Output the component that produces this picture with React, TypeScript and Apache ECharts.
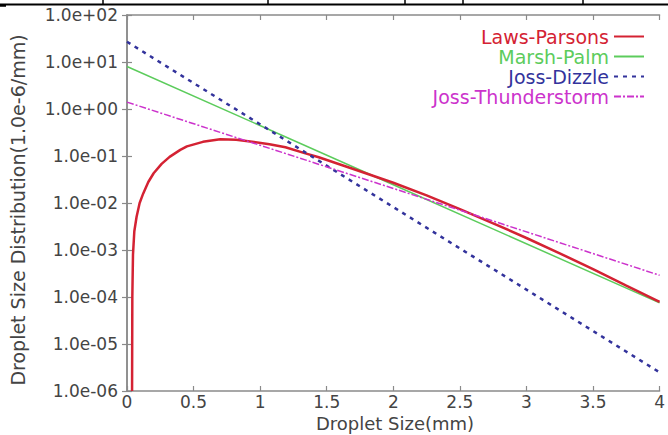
import React, { useEffect, useRef } from "react";
import * as echarts from "echarts";

const seriesNames = ["Laws-Parsons", "Marsh-Palm", "Joss-Dizzle", "Joss-Thunderstorm"];
const seriesColors = ["#d42233", "#5ccc5c", "#33339c", "#cc33cc"];

const lawsParsonsX = [0.038, 0.04, 0.045, 0.055, 0.072, 0.095, 0.122, 0.16, 0.2, 0.26, 0.32, 0.4, 0.45, 0.57, 0.7, 0.82, 0.94, 1.07, 1.19, 1.34, 1.44, 1.7, 2.0, 2.25, 2.5, 2.75, 3.0, 3.25, 3.5, 3.75, 4.0];
const lawsParsonsY = [1e-6, 1e-4, 8e-4, 2.5e-3, 5.1e-3, 1e-2, 1.6e-2, 2.8e-2, 4.3e-2, 6.8e-2, 9.6e-2, 0.135, 0.16, 0.2, 0.226, 0.222, 0.2, 0.178, 0.153, 0.114, 0.094, 0.053, 0.027, 0.0145, 7.4e-3, 3.7e-3, 1.8e-3, 8.5e-4, 3.9e-4, 1.75e-4, 7.9e-5];

const lineX = [0, 2, 4];
const marshPalmY = [8, 0.0245, 7.5e-5];
const jossDizzleY = [27, 8.2e-3, 2.5e-6];
const jossThunderY = [1.4, 0.0204, 2.9e-4];

const xMin = 0;
const xMax = 4;
const xInterval = 0.5;
const yMin = 1e-6;
const yMax = 100;

const xTitle = "Droplet Size(mm)";
const yTitle = "Droplet Size Distribution(1.0e-6/mm)";

const tableColumnsX = [103, 268, 405, 463, 583];

function fmtExp(v: number): string {
  const e = Math.round(Math.log10(v));
  const sign = e < 0 ? "-" : "+";
  const a = Math.abs(e);
  return "1.0e" + sign + (a < 10 ? "0" + a : String(a));
}

function zip(xs: number[], ys: number[]) {
  return xs.map((x, i) => [x, ys[i]]);
}

export default function App() {
  const ref = useRef<HTMLDivElement>(null);
  useEffect(() => {
    if (!ref.current) return;
    const chart = echarts.init(ref.current, undefined, { renderer: "svg" });
    const font = "DejaVu Sans";
    const axisColor = "#8a8a8a";
    const labelColor = "#444";
    const commonLine = { show: true, lineStyle: { color: axisColor, width: 1.5 } };
    const tick = { show: true, inside: true, length: 5, lineStyle: { color: axisColor, width: 1.2 } };

    const graphics: any[] = [
      {
        type: "line",
        shape: { x1: 0, y1: 4.5, x2: 668, y2: 4.5 },
        style: { stroke: "#000", lineWidth: 2 },
        silent: true,
      },
      {
        type: "line",
        shape: { x1: 0, y1: 5.5, x2: 6, y2: 5.5 },
        style: { stroke: "#000", lineWidth: 2.5 },
        silent: true,
      },
      ...tableColumnsX.map((x) => ({
        type: "line",
        shape: { x1: x, y1: 0, x2: x, y2: 4.5 },
        style: { stroke: "#000", lineWidth: 1.5 },
        silent: true,
      })),
      {
        type: "text",
        x: 395,
        y: 423,
        style: {
          text: xTitle,
          font: `18px "${font}"`,
          fill: labelColor,
          textAlign: "center",
          textVerticalAlign: "middle",
          align: "center",
          verticalAlign: "middle",
        },
      },
      {
        type: "text",
        x: 18,
        y: 210,
        rotation: Math.PI / 2,
        style: {
          text: yTitle,
          font: `19px "${font}"`,
          fill: labelColor,
          textAlign: "center",
          textVerticalAlign: "middle",
          align: "center",
          verticalAlign: "middle",
        },
      },
    ];

    chart.setOption({
      animation: false,
      backgroundColor: "#fff",
      grid: { left: 127, top: 15, right: 5, bottom: 44, containLabel: false },
      legend: {
        orient: "vertical",
        align: "right",
        right: 18,
        top: 22,
        itemWidth: 30,
        itemHeight: 14,
        itemGap: 1,
        itemStyle: { opacity: 0 },
        textStyle: { fontFamily: font, fontSize: 19, lineHeight: 19 },
        data: seriesNames.map((n, i) => ({ name: n, textStyle: { color: seriesColors[i] } })),
      },
      xAxis: [
        {
          type: "value",
          min: xMin,
          max: xMax,
          interval: xInterval,
          axisLine: commonLine,
          axisTick: tick,
          splitLine: { show: false },
          axisLabel: { color: labelColor, fontFamily: font, fontSize: 17, margin: 2 },
        },
        {
          type: "value",
          position: "top",
          min: xMin,
          max: xMax,
          interval: xInterval,
          axisLine: commonLine,
          axisTick: tick,
          splitLine: { show: false },
          axisLabel: { show: false },
        },
      ],
      yAxis: [
        {
          type: "log",
          logBase: 10,
          min: yMin,
          max: yMax,
          interval: 1,
          axisLine: commonLine,
          axisTick: tick,
          splitLine: { show: false },
          axisLabel: { color: labelColor, fontFamily: font, fontSize: 17, margin: 9, formatter: fmtExp },
        },
        {
          type: "log",
          logBase: 10,
          position: "right",
          min: yMin,
          max: yMax,
          interval: 1,
          axisLine: commonLine,
          axisTick: tick,
          splitLine: { show: false },
          axisLabel: { show: false },
        },
      ],
      series: [
        {
          name: seriesNames[0],
          type: "line",
          symbol: "none",
          data: zip(lawsParsonsX, lawsParsonsY),
          color: seriesColors[0],
          lineStyle: { width: 2.5, color: seriesColors[0] },
          z: 4,
        },
        {
          name: seriesNames[1],
          type: "line",
          symbol: "none",
          data: zip(lineX, marshPalmY),
          color: seriesColors[1],
          lineStyle: { width: 1.5, color: seriesColors[1] },
          z: 3,
        },
        {
          name: seriesNames[2],
          type: "line",
          symbol: "none",
          data: zip(lineX, jossDizzleY),
          color: seriesColors[2],
          lineStyle: { width: 2.5, color: seriesColors[2], type: [4, 5] },
          z: 5,
        },
        {
          name: seriesNames[3],
          type: "line",
          symbol: "none",
          data: zip(lineX, jossThunderY),
          color: seriesColors[3],
          lineStyle: { width: 1.5, color: seriesColors[3], type: [7, 2, 2, 2] },
          z: 6,
        },
      ],
      graphic: graphics,
    });
    return () => chart.dispose();
  }, []);
  return (
    <div
      ref={ref}
      style={{ position: "fixed", left: 0, top: 0, width: 668, height: 435, background: "#fff" }}
    />
  );
}
